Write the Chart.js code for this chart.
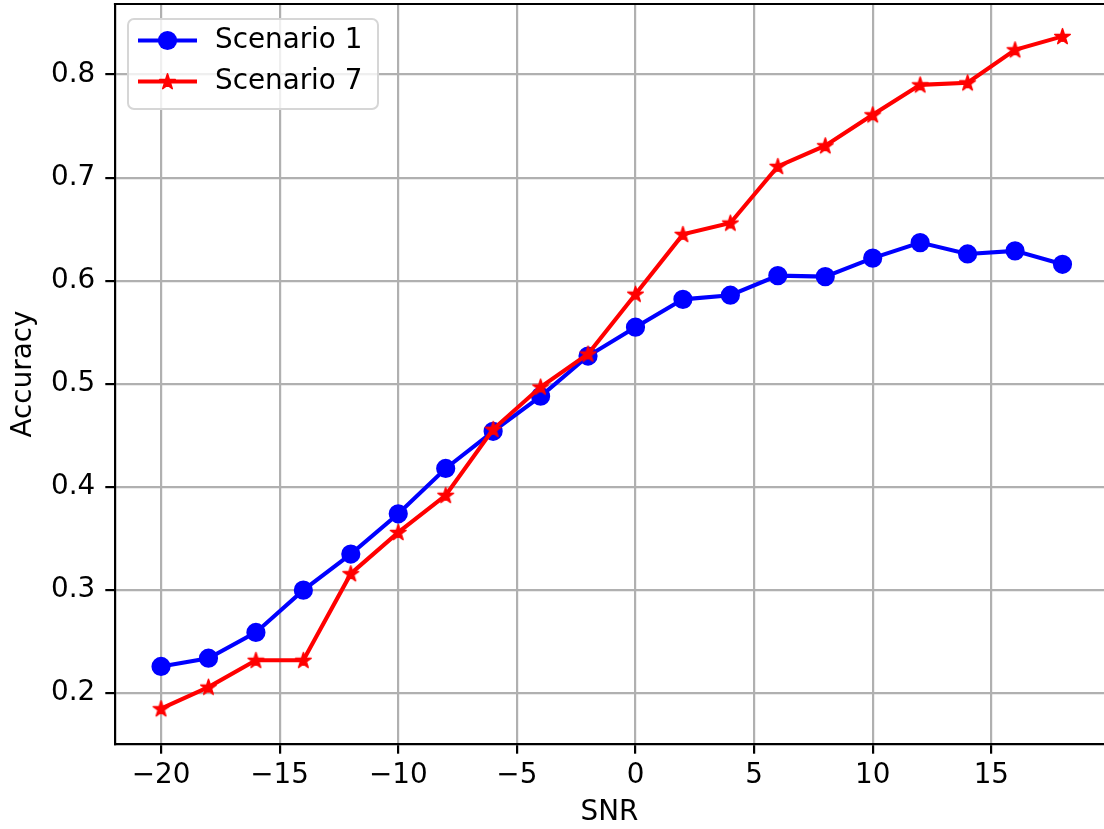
<!DOCTYPE html>
<html>
<head>
<meta charset="utf-8">
<script src="https://cdn.jsdelivr.net/npm/chart.js@4/dist/chart.umd.min.js"></script>
<style>
  html, body { margin: 0; padding: 0; background: #fff; }
  #wrap { width: 1104px; height: 829px; position: relative; }
</style>
</head>
<body>
<div id="wrap"><canvas id="chart"></canvas></div>
<script>
  // SNR values on the x axis
  const snr = [-20, -18, -16, -14, -12, -10, -8, -6, -4, -2, 0, 2, 4, 6, 8, 10, 12, 14, 16, 18];

  // accuracy per scenario
  const scenario1 = [0.226, 0.234, 0.259, 0.300, 0.335, 0.374, 0.418, 0.454, 0.488, 0.527,
                     0.555, 0.582, 0.586, 0.605, 0.604, 0.622, 0.637, 0.626, 0.629, 0.616];
  const scenario7 = [0.185, 0.206, 0.232, 0.232, 0.316, 0.356, 0.392, 0.456, 0.497, 0.529,
                     0.587, 0.645, 0.656, 0.711, 0.731, 0.761, 0.790, 0.792, 0.824, 0.837];

  const seriesLabels = ['Scenario 1', 'Scenario 7'];
  const xTicks = [-20, -15, -10, -5, 0, 5, 10, 15];
  const yTicks = [0.2, 0.3, 0.4, 0.5, 0.6, 0.7, 0.8];

  const FONT = 27.8;
  Chart.defaults.font.family = '"DejaVu Sans", sans-serif';
  Chart.defaults.font.size = FONT;
  Chart.defaults.color = '#000';

  // filled five point star like the matplotlib '*' marker
  function makeStar(color, r) {
    const c = document.createElement('canvas');
    const s = Math.ceil(r * 2 + 6);
    c.width = s; c.height = s;
    const g = c.getContext('2d');
    g.translate(s / 2, s / 2 + 0.5);
    g.beginPath();
    for (let i = 0; i < 10; i++) {
      const rr = i % 2 === 0 ? r : r * 0.382;
      const a = -Math.PI / 2 + i * Math.PI / 5;
      g.lineTo(rr * Math.cos(a), rr * Math.sin(a));
    }
    g.closePath();
    g.fillStyle = color;
    g.fill();
    g.lineWidth = 1.5;
    g.lineJoin = 'round';
    g.strokeStyle = color;
    g.stroke();
    return c;
  }
  const redStar = makeStar('#ff0000', 8.2);

  const minus = v => (v < 0 ? '\u2212' + Math.abs(v) : String(v));

  // fixed axis box sizes, no extra label padding around the plot
  function fixBox(s, size) {
    if (s.isHorizontal()) s.height = size; else s.width = size;
    s.paddingTop = 0; s.paddingBottom = 0; s.paddingLeft = 0; s.paddingRight = 0;
  }

  // top spine (right spine falls outside the picture)
  const topSpine = {
    id: 'topSpine',
    afterDraw(chart) {
      const { ctx, chartArea: a } = chart;
      ctx.save();
      ctx.strokeStyle = '#000';
      ctx.lineWidth = 2.2;
      ctx.beginPath();
      ctx.moveTo(a.left - 1.1, a.top);
      ctx.lineTo(a.right, a.top);
      ctx.stroke();
      ctx.restore();
    }
  };

  // matplotlib style legend: line sample with marker in the middle
  const mplLegend = {
    id: 'mplLegend',
    afterDraw(chart) {
      const { ctx, chartArea: a } = chart;
      const x0 = a.left + 13, y0 = a.top + 15, w = 250, h = 90, r = 6;
      ctx.save();
      ctx.beginPath();
      ctx.roundRect(x0, y0, w, h, r);
      ctx.fillStyle = 'rgba(255,255,255,0.8)';
      ctx.fill();
      ctx.lineWidth = 2;
      ctx.strokeStyle = '#d6d6d6';
      ctx.stroke();

      chart.data.datasets.forEach((ds, i) => {
        const cy = y0 + 21.5 + i * 41;
        const lx1 = x0 + 10, lx2 = x0 + 69, mx = (lx1 + lx2) / 2;
        ctx.strokeStyle = ds.borderColor;
        ctx.lineWidth = ds.borderWidth;
        ctx.beginPath();
        ctx.moveTo(lx1, cy);
        ctx.lineTo(lx2, cy);
        ctx.stroke();
        if (ds.pointStyle === 'circle') {
          ctx.beginPath();
          ctx.arc(mx, cy, ds.pointRadius + ds.pointBorderWidth / 2, 0, Math.PI * 2);
          ctx.fillStyle = ds.pointBackgroundColor;
          ctx.fill();
        } else {
          const img = ds.pointStyle;
          ctx.drawImage(img, mx - img.width / 2, cy - img.height / 2);
        }
        ctx.fillStyle = '#000';
        ctx.font = FONT + 'px "DejaVu Sans", sans-serif';
        ctx.textBaseline = 'middle';
        ctx.textAlign = 'left';
        ctx.fillText(ds.label, x0 + 87, cy);
      });
      ctx.restore();
    }
  };

  const gridOpts = { color: '#b0b0b0', lineWidth: 2.2, tickColor: '#000', tickWidth: 2.2, tickLength: 9.7 };

  new Chart(document.getElementById('chart'), {
    type: 'line',
    data: {
      datasets: [
        {
          label: seriesLabels[0],
          data: snr.map((x, i) => ({ x, y: scenario1[i] })),
          borderColor: '#0000ff',
          backgroundColor: '#0000ff',
          pointBackgroundColor: '#0000ff',
          pointBorderColor: '#0000ff',
          borderWidth: 4.1,
          pointStyle: 'circle',
          pointRadius: 8.3,
          pointBorderWidth: 2.6,
          tension: 0,
          order: 1
        },
        {
          label: seriesLabels[1],
          data: snr.map((x, i) => ({ x, y: scenario7[i] })),
          borderColor: '#ff0000',
          backgroundColor: '#ff0000',
          pointBackgroundColor: '#ff0000',
          borderWidth: 4.1,
          pointStyle: redStar,
          pointRadius: 8,
          tension: 0,
          order: 0
        }
      ]
    },
    options: {
      responsive: true,
      maintainAspectRatio: false,
      animation: false,
      events: [],
      layout: { autoPadding: false, padding: { top: 4, right: 0, left: 0, bottom: 0 } },
      plugins: { legend: { display: false }, tooltip: { enabled: false } },
      scales: {
        x: {
          type: 'linear',
          min: -21.94,
          max: 19.75,
          afterFit: s => fixBox(s, 85),
          afterBuildTicks: s => { s.ticks = xTicks.map(v => ({ value: v })); },
          ticks: { callback: v => minus(v), padding: 5, maxRotation: 0, autoSkip: false },
          grid: gridOpts,
          border: { color: '#000', width: 2.2 },
          title: { display: true, text: 'SNR', padding: { top: 0, bottom: 0 } }
        },
        y: {
          min: 0.1508,
          max: 0.8684,
          afterFit: s => fixBox(s, 115),
          afterBuildTicks: s => { s.ticks = yTicks.map(v => ({ value: v })); },
          ticks: { callback: v => v.toFixed(1), padding: 10 },
          grid: gridOpts,
          border: { color: '#000', width: 2.2 },
          title: { display: true, text: 'Accuracy', padding: { top: 6.7, bottom: 0 } }
        }
      }
    },
    plugins: [topSpine, mplLegend]
  });
</script>
</body>
</html>
